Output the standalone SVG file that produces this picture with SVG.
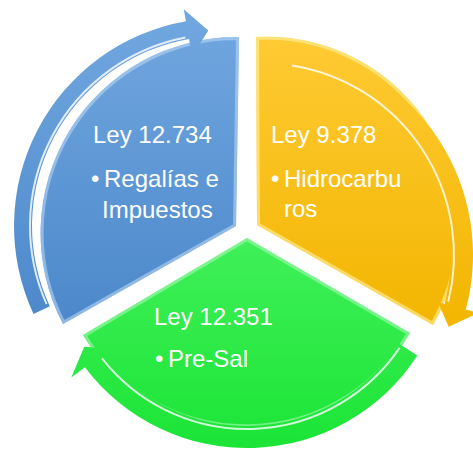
<svg xmlns="http://www.w3.org/2000/svg" width="473" height="451" viewBox="0 0 473 451">
<defs>
<linearGradient id="gb" gradientUnits="userSpaceOnUse" x1="0" y1="10" x2="0" y2="330"><stop offset="0" stop-color="#72a8e0"/><stop offset="1" stop-color="#4b87ca"/></linearGradient>
<linearGradient id="gy" gradientUnits="userSpaceOnUse" x1="0" y1="30" x2="0" y2="330"><stop offset="0" stop-color="#ffcb35"/><stop offset="1" stop-color="#f2b500"/></linearGradient>
<linearGradient id="gg" gradientUnits="userSpaceOnUse" x1="0" y1="238" x2="0" y2="450"><stop offset="0" stop-color="#40f059"/><stop offset="1" stop-color="#1be436"/></linearGradient>
<clipPath id="cb"><path d="M236,226 L239,37 A196,196 0 0,0 63,324 Z"/></clipPath>
<clipPath id="cy"><path d="M257,225 L256,37 A192,192 0 0,1 433,325 Z"/></clipPath>
<clipPath id="cg"><path d="M247,238 L410,333 A190,190 0 0,1 83,335 Z"/></clipPath>
</defs>
<style>
.t{font-family:"Liberation Sans",Arial,sans-serif;font-size:24px;fill:#ffffff}
.bev{fill:none;stroke-width:6;stroke-opacity:0.6}
.hl{fill:none;stroke:#ffffff;stroke-width:2;stroke-opacity:0.8}
</style>
<g id="node-blue">
<path d="M236,226 L239,37 A196,196 0 0,0 63,324 Z" fill="url(#gb)"/>
<path d="M236,226 L239,37 A196,196 0 0,0 63,324 Z" class="bev" stroke="#b9d6f3" clip-path="url(#cb)"/>
<text class="t" x="93" y="143">Ley 12.734</text>
<text class="t" y="187"><tspan x="91">•</tspan><tspan x="104">Regalías e</tspan></text>
<text class="t" x="102" y="218">Impuestos</text>
</g>
<g id="node-yellow">
<path d="M257,225 L256,37 A192,192 0 0,1 433,325 Z" fill="url(#gy)"/>
<path d="M257,225 L256,37 A192,192 0 0,1 433,325 Z" class="bev" stroke="#fff2a0" clip-path="url(#cy)"/>
<text class="t" x="271" y="143">Ley 9.378</text>
<text class="t" y="187"><tspan x="271">•</tspan><tspan x="284">Hidrocarbu</tspan></text>
<text class="t" x="284" y="217">ros</text>
</g>
<g id="node-green">
<path d="M247,238 L410,333 A190,190 0 0,1 83,335 Z" fill="url(#gg)"/>
<path d="M247,238 L410,333 A190,190 0 0,1 83,335 Z" class="bev" stroke="#a6f9b2" clip-path="url(#cg)"/>
<text class="t" x="154" y="325">Ley 12.351</text>
<text class="t" y="367"><tspan x="155">•</tspan><tspan x="168">Pre-Sal</tspan></text>
</g>
<g id="connectors">
<path d="M33.5,313.9 A208,208 0 0,1 185.9,21.2 L183.8,9.3 L208.3,30.5 L192.1,56.6 L189,38.9 A190,190 0 0,0 49.8,306.3 Z" fill="url(#gb)"/>
<path d="M46.6,304.1 A192,192 0 0,1 185.4,37.5" class="hl"/>
<path d="M291.4,46 A211,211 0 0,1 465.8,309.6 L478.4,313 L448.7,326.7 L437.8,302.1 L444.6,303.9 A189,189 0 0,0 288.3,67.8 Z" fill="url(#gy)"/>
<path d="M292,65.4 A192,192 0 0,1 448.3,301.4" class="hl" stroke="#fff7b0"/>
<path d="M417.3,355.6 A203,203 0 0,1 84.9,367.2 L71.3,377.4 L84.2,346.7 L109.6,348.5 L102.5,353.9 A181,181 0 0,0 398.8,343.6 Z" fill="url(#gg)"/>
<path d="M399.5,347.9 A184,184 0 0,1 102,358.3" class="hl" stroke="#c8ffd0"/>
</g>
</svg>
